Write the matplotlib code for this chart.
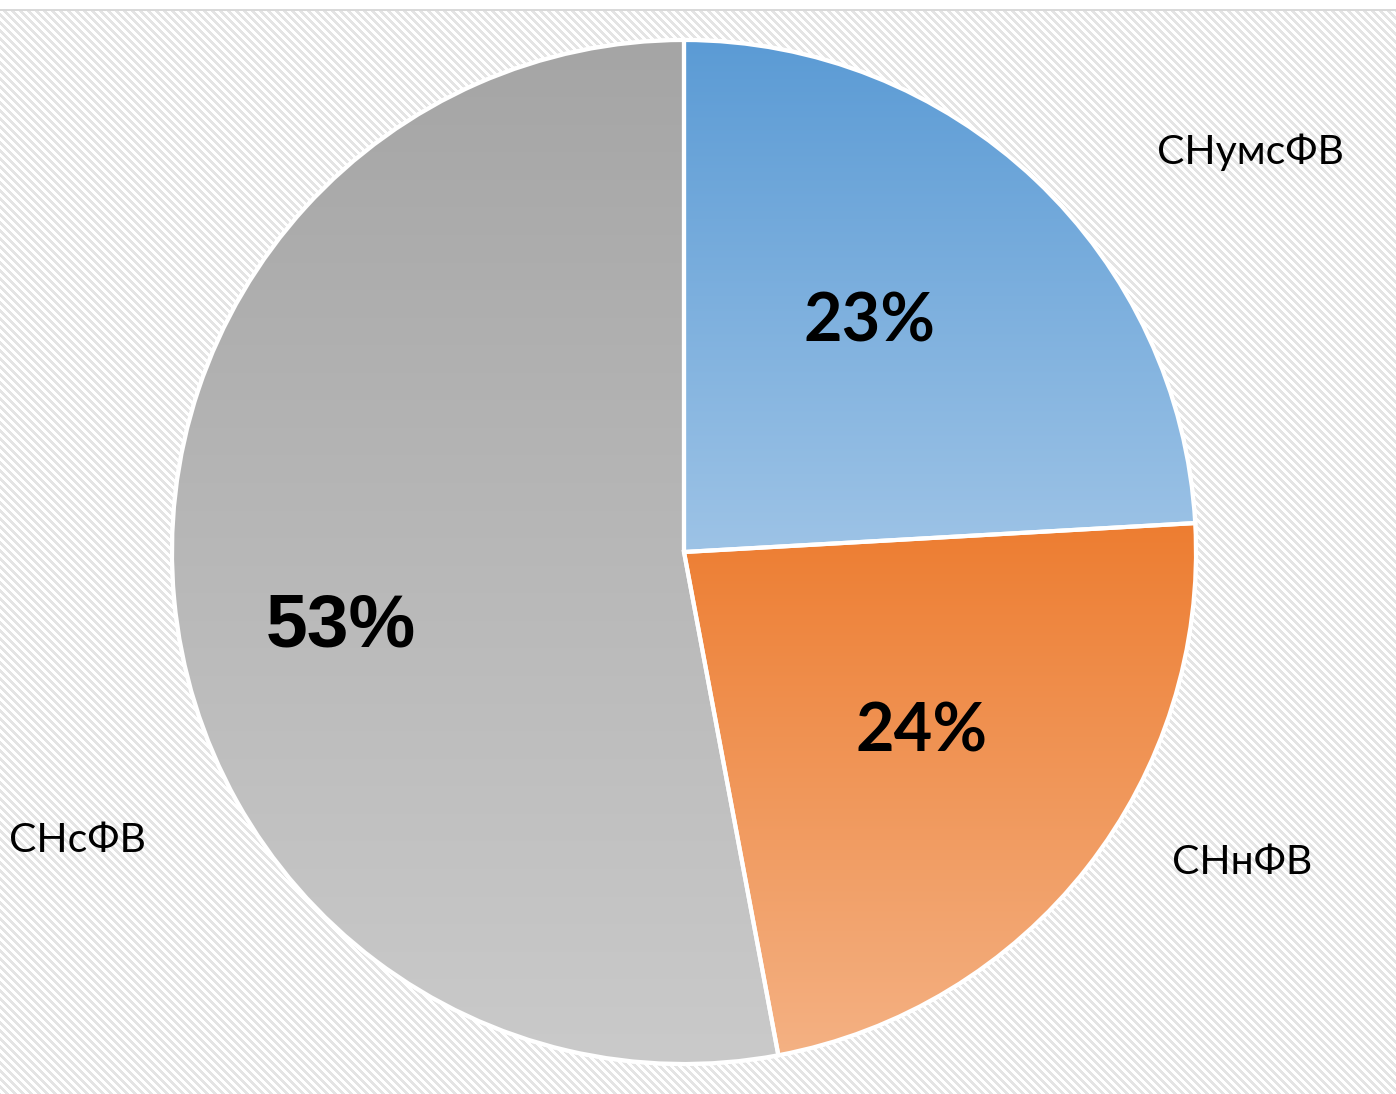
import numpy as np
import matplotlib
matplotlib.use("Agg")
import matplotlib.pyplot as plt
from matplotlib.colors import to_rgb
from matplotlib.patches import Wedge

# ---- data ----
categories = ["СНумсФВ", "СНнФВ", "СНсФВ"]
shares = [24.1, 22.95, 52.95]        # wedge sizes
pct_labels = ["23%", "24%", "53%"]   # labels as printed in the reference
top_colors = ["#5B9BD5", "#ED7D31", "#A5A5A5"]
bottom_colors = ["#9DC3E6", "#F4B183", "#CACACA"]

W, H = 1396, 1094
fig = plt.figure(figsize=(W / 100, H / 100), dpi=100)
fig.patch.set_facecolor("white")

# background: diagonal hatch below a thin rule
yy, xx = np.mgrid[0:H, 0:W]
bg = np.ones((H, W, 3))
stripe = ((xx - yy) % 8) < 4
bg[stripe] = np.array(to_rgb("#E4E4E4"))
bg[:10] = 1.0
bg[9:11] = np.array(to_rgb("#D9D9D9"))
fig.figimage(bg, xo=0, yo=0, origin="upper", zorder=0)

ax = fig.add_axes([0, 0, 1, 1])
ax.set_zorder(2)
ax.set_xlim(0, W)
ax.set_ylim(0, H)
ax.set_aspect("equal")
ax.axis("off")
ax.patch.set_alpha(0)

cx, cy, r = 684, H - 552, 512
wedges, _ = ax.pie(shares, center=(cx, cy), radius=r, startangle=90,
                   counterclock=False, colors=top_colors,
                   wedgeprops=dict(edgecolor="white", linewidth=3),
                   frame=True)
ax.set_xlim(0, W)
ax.set_ylim(0, H)
ax.axis("off")
fig.canvas.draw()

for w, c0, c1 in zip(wedges, top_colors, bottom_colors):
    bb = w.get_window_extent()
    inv = ax.transData.inverted()
    (x0, y0), (x1, y1) = inv.transform([[bb.x0, bb.y0], [bb.x1, bb.y1]])
    n = 256
    t = np.linspace(0, 1, n)[:, None]
    grad = (1 - t) * np.array(to_rgb(c0)) + t * np.array(to_rgb(c1))
    img = np.repeat(grad[:, None, :], 2, axis=1)
    im = ax.imshow(img, extent=(x0, x1, y0, y1), origin="upper",
                   aspect="auto", zorder=w.get_zorder() + 0.1,
                   interpolation="bilinear")
    im.set_clip_path(w)
    ax.add_patch(Wedge(w.center, w.r, w.theta1, w.theta2, facecolor="none",
                       edgecolor="white", linewidth=3,
                       zorder=w.get_zorder() + 0.2))

ax.set_xlim(0, W)
ax.set_ylim(0, H)

# percentage labels
pct_pos = [(869, 323), (922, 733), (341, 627)]
pct_fonts = [("Lato", 48), ("Lato", 48), ("Liberation Sans", 54)]
for lab, (px, py), (fam, fs) in zip(pct_labels, pct_pos, pct_fonts):
    ax.text(px, H - py, lab, ha="center", va="center", fontsize=fs,
            fontweight="bold", family=fam, color="black", zorder=10)

# category labels
cat_pos = [(1250, 152), (1242, 862), (77, 840)]
for lab, (px, py) in zip(categories, cat_pos):
    ax.text(px, H - py, lab, ha="center", va="center", fontsize=29.5,
            family=["Lato", "DejaVu Sans"], color="black", zorder=10)

fig.savefig("out.png", dpi=100)
